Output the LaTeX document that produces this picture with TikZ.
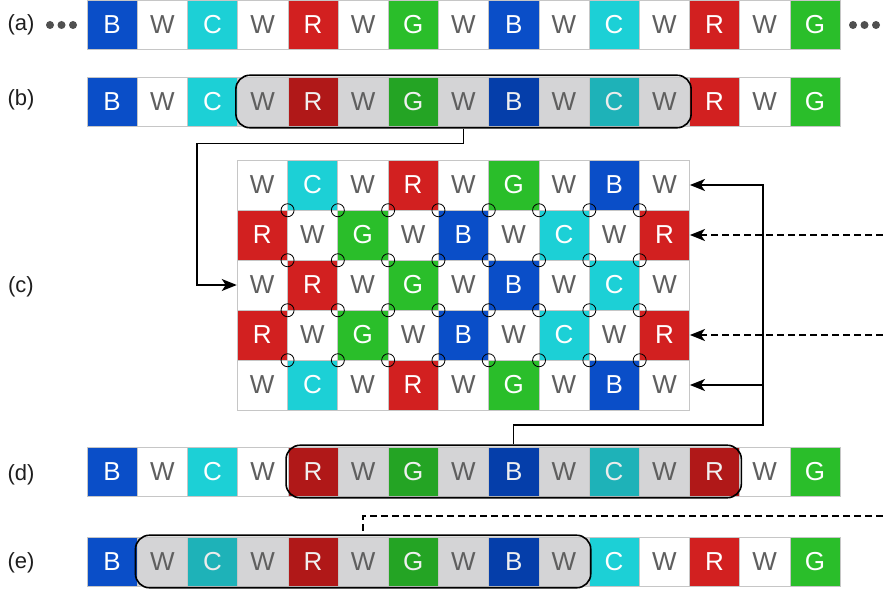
\documentclass[tikz,border=0pt]{standalone}
\usepackage{fontspec}
\setmainfont{Liberation Sans}
\usetikzlibrary{fit,arrows.meta,calc}
\definecolor{cB}{RGB}{10,78,200}
\definecolor{cC}{RGB}{28,208,214}
\definecolor{cR}{RGB}{210,32,32}
\definecolor{cG}{RGB}{42,190,42}
\definecolor{hB}{RGB}{5,62,170}
\definecolor{hC}{RGB}{30,178,184}
\definecolor{hR}{RGB}{176,24,24}
\definecolor{hG}{RGB}{36,164,36}
\definecolor{hW}{RGB}{212,212,214}
\definecolor{txtgray}{RGB}{95,95,95}
\definecolor{dotgray}{RGB}{80,80,80}
\definecolor{labgray}{RGB}{30,30,30}
\begin{document}
\begin{tikzpicture}[x=1pt,y=-1pt,
  cell/.style={minimum width=50.2pt, minimum height=49pt, inner sep=0pt,
    draw=gray!45, line width=0.5pt, font=\fontsize{26}{26}\selectfont},
  cellB/.style={cell, fill=cB, text=white},
  cellC/.style={cell, fill=cC, text=white},
  cellR/.style={cell, fill=cR, text=white},
  cellG/.style={cell, fill=cG, text=white},
  cellW/.style={cell, fill=white, text=txtgray},
  hlB/.style={cell, fill=hB, text=white!88!gray},
  hlC/.style={cell, fill=hC, text=white!85!gray},
  hlR/.style={cell, fill=hR, text=white!88!gray},
  hlG/.style={cell, fill=hG, text=white!88!gray},
  hlW/.style={cell, fill=hW, text=txtgray},
  gcell/.style={minimum width=50.3pt, minimum height=50pt},
  hlbox/.style={draw=black, line width=1.6pt, rounded corners=14pt, inner sep=1.5pt},
  lab/.style={font=\fontsize{22}{22}\selectfont, text=labgray, inner sep=0pt},
  dot/.style={circle, fill=dotgray, minimum size=8pt, inner sep=0pt},
  conn/.style={draw=black, line width=1.5pt},
  dconn/.style={draw=black, line width=1.5pt, dash pattern=on 7pt off 4pt},
  arr/.style={-{Stealth[length=15pt,width=12pt,inset=4pt]}},
  ring/.style={draw=black, line width=0.8pt}
]
\useasboundingbox (0,0) rectangle (883,591);

% labels
\node[lab] (la) at (21,25) {(a)};
\node[lab] (lb) at (21,100) {(b)};
\node[lab] (lc) at (21,287) {(c)};
\node[lab] (ld) at (21,475) {(d)};
\node[lab] (le) at (21,563) {(e)};

% dots
\node[dot] (dl1) at (50,25) {};
\node[dot] (dl2) at (61.5,25) {};
\node[dot] (dl3) at (73,25) {};
\node[dot] (dr1) at (853,25) {};
\node[dot] (dr2) at (864.5,25) {};
\node[dot] (dr3) at (876,25) {};

% row (a)
\foreach \c [count=\i] in {B,W,C,W,R,W,G,W,B,W,C,W,R,W,G} {
  \node[cell\c] (a\i) at ({61.9+50.2*\i},25) {\c};
}
% row (b)
\foreach \c [count=\i] in {B,W,C,W,R,W,G,W,B,W,C,W,R,W,G} {
  \ifnum\i<4 \def\st{cell}\else\ifnum\i>12 \def\st{cell}\else\def\st{hl}\fi\fi
  \node[\st\c] (b\i) at ({61.9+50.2*\i},101.5) {\c};
}
% row (d)
\foreach \c [count=\i] in {B,W,C,W,R,W,G,W,B,W,C,W,R,W,G} {
  \ifnum\i<5 \def\st{cell}\else\ifnum\i>13 \def\st{cell}\else\def\st{hl}\fi\fi
  \node[\st\c] (d\i) at ({61.9+50.2*\i},471.5) {\c};
}
% row (e)
\foreach \c [count=\i] in {B,W,C,W,R,W,G,W,B,W,C,W,R,W,G} {
  \ifnum\i<2 \def\st{cell}\else\ifnum\i>10 \def\st{cell}\else\def\st{hl}\fi\fi
  \node[\st\c] (e\i) at ({61.9+50.2*\i},561.5) {\c};
}

% grid (c)
\foreach \rowlist [count=\r] in {
  {W,C,W,R,W,G,W,B,W},
  {R,W,G,W,B,W,C,W,R},
  {W,R,W,G,W,B,W,C,W},
  {R,W,G,W,B,W,C,W,R},
  {W,C,W,R,W,G,W,B,W}} {
  \foreach \c [count=\k] in \rowlist {
    \node[cell\c, gcell] (g\r\k) at ({262.15+50.3*(\k-1)},{185+50*(\r-1)}) {\c};
  }
}
% rings at interior vertices
\foreach \r in {1,...,4} {
  \foreach \k in {1,...,8} {
    \draw[ring] (g\r\k.south east) circle[radius=6.5pt];
  }
}

% highlight boxes
\node[hlbox, fit=(b4)(b12)] (hb) {};
\node[hlbox, fit=(d5)(d13)] (hd) {};
\node[hlbox, fit=(e2)(e10)] (he) {};

% connectors
\coordinate (jc) at (197,285);
\draw[conn,arr] (hb.south) -- ++(0,15) -| (jc) -- (g31.west);

\coordinate (jd) at (763,425);
\draw[conn,arr] (hd.north) |- (jd) |- (g19.east);
\draw[conn,arr] (jd |- g59.east) -- (g59.east);

\coordinate (rx) at (883,0);
\draw[dconn,arr] (g29.east -| rx) -- (g29.east);
\draw[dconn,arr] (g49.east -| rx) -- (g49.east);

\coordinate (re) at (883,516);
\draw[dconn] (re) -| (he.north);
\end{tikzpicture}
\end{document}
